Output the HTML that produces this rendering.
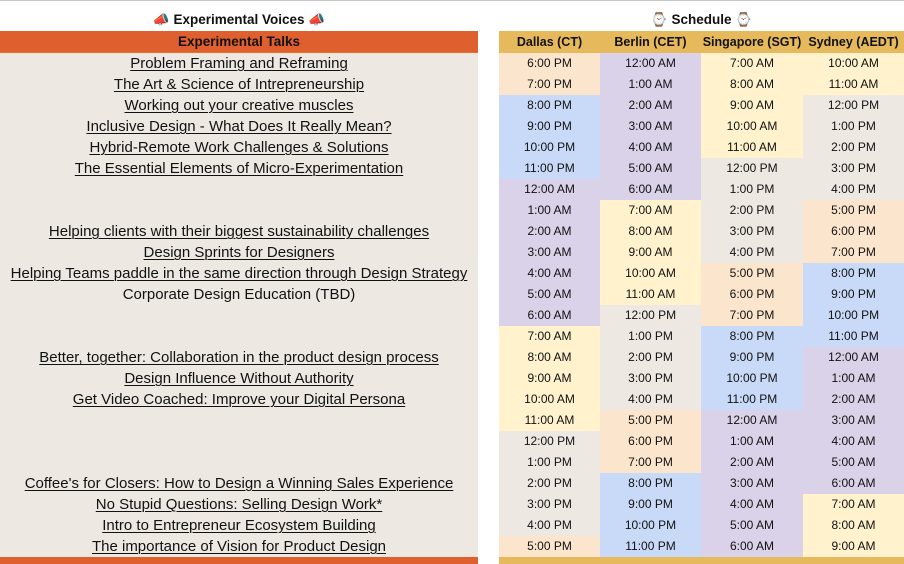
<!DOCTYPE html>
<html><head><meta charset="utf-8"><style>
body{margin:0;width:904px;height:563px;background:#fff;font-family:"Liberation Sans",sans-serif;position:relative;overflow:hidden;color:#111}
.top{position:absolute;left:0;top:0;width:904px;height:1px;background:#c8c8c8}
.title{position:absolute;top:10px;height:20px;font-weight:bold;font-size:13.5px;text-align:center;line-height:20px}
.left{position:absolute;left:0;top:31px;width:478px}
.right{position:absolute;left:499px;top:31px;width:405px}
.hdrL{height:22px;background:#e05f2f;border-bottom:1px solid #f07020;box-sizing:border-box;text-align:center;font-weight:bold;font-size:13.5px;line-height:22px}
.hdrR{height:22px;background:#e5b95c;display:flex;font-weight:bold;font-size:12.5px;line-height:22px}
.row{height:21px;line-height:21px;text-align:center;font-size:15px;background:#eee8e3;white-space:nowrap}
.row u{text-decoration-thickness:1px;text-underline-offset:2px}
.tr{display:flex;height:21px;line-height:21px;font-size:12px}
.tr div,.hdrR div{text-align:center}
.c1{width:101px}.c2{width:101px}.c3{width:102px}.c4{width:101px}
.P{background:#fce5cd}.L{background:#d9d2e9}.Y{background:#fff2cc}.G{background:#eee8e3}.B{background:#c9daf8}
.bot{height:7px}
</style></head><body>
<div class="top"></div>
<div class="title" style="left:0;width:478px">📣 Experimental Voices 📣</div>
<div class="title" style="left:499px;width:405px">⌚ Schedule ⌚</div>
<div class="left">
<div class="hdrL">Experimental Talks</div>
<div class="row"><u>Problem Framing and Reframing</u></div>
<div class="row"><u>The Art &amp; Science of Intrepreneurship</u></div>
<div class="row"><u>Working out your creative muscles</u></div>
<div class="row"><u>Inclusive Design - What Does It Really Mean?</u></div>
<div class="row"><u>Hybrid-Remote Work Challenges &amp; Solutions</u></div>
<div class="row"><u>The Essential Elements of Micro-Experimentation</u></div>
<div class="row"></div>
<div class="row"></div>
<div class="row"><u>Helping clients with their biggest sustainability challenges</u></div>
<div class="row"><u>Design Sprints for Designers</u></div>
<div class="row"><u>Helping Teams paddle in the same direction through Design Strategy</u></div>
<div class="row">Corporate Design Education (TBD)</div>
<div class="row"></div>
<div class="row"></div>
<div class="row"><u>Better, together: Collaboration in the product design process</u></div>
<div class="row"><u>Design Influence Without Authority</u></div>
<div class="row"><u>Get Video Coached: Improve your Digital Persona</u></div>
<div class="row"></div>
<div class="row"></div>
<div class="row"></div>
<div class="row"><u>Coffee's for Closers: How to Design a Winning Sales Experience</u></div>
<div class="row"><u>No Stupid Questions: Selling Design Work*</u></div>
<div class="row"><u>Intro to Entrepreneur Ecosystem Building</u></div>
<div class="row"><u>The importance of Vision for Product Design</u></div>
<div class="bot" style="background:#e05f2f"></div>
</div>
<div class="right">
<div class="hdrR"><div class="c1">Dallas (CT)</div><div class="c2">Berlin (CET)</div><div class="c3">Singapore (SGT)</div><div class="c4">Sydney (AEDT)</div></div>
<div class="tr"><div class="c1 P">6:00 PM</div><div class="c2 L">12:00 AM</div><div class="c3 Y">7:00 AM</div><div class="c4 Y">10:00 AM</div></div>
<div class="tr"><div class="c1 P">7:00 PM</div><div class="c2 L">1:00 AM</div><div class="c3 Y">8:00 AM</div><div class="c4 Y">11:00 AM</div></div>
<div class="tr"><div class="c1 B">8:00 PM</div><div class="c2 L">2:00 AM</div><div class="c3 Y">9:00 AM</div><div class="c4 G">12:00 PM</div></div>
<div class="tr"><div class="c1 B">9:00 PM</div><div class="c2 L">3:00 AM</div><div class="c3 Y">10:00 AM</div><div class="c4 G">1:00 PM</div></div>
<div class="tr"><div class="c1 B">10:00 PM</div><div class="c2 L">4:00 AM</div><div class="c3 Y">11:00 AM</div><div class="c4 G">2:00 PM</div></div>
<div class="tr"><div class="c1 B">11:00 PM</div><div class="c2 L">5:00 AM</div><div class="c3 G">12:00 PM</div><div class="c4 G">3:00 PM</div></div>
<div class="tr"><div class="c1 L">12:00 AM</div><div class="c2 L">6:00 AM</div><div class="c3 G">1:00 PM</div><div class="c4 G">4:00 PM</div></div>
<div class="tr"><div class="c1 L">1:00 AM</div><div class="c2 Y">7:00 AM</div><div class="c3 G">2:00 PM</div><div class="c4 P">5:00 PM</div></div>
<div class="tr"><div class="c1 L">2:00 AM</div><div class="c2 Y">8:00 AM</div><div class="c3 G">3:00 PM</div><div class="c4 P">6:00 PM</div></div>
<div class="tr"><div class="c1 L">3:00 AM</div><div class="c2 Y">9:00 AM</div><div class="c3 G">4:00 PM</div><div class="c4 P">7:00 PM</div></div>
<div class="tr"><div class="c1 L">4:00 AM</div><div class="c2 Y">10:00 AM</div><div class="c3 P">5:00 PM</div><div class="c4 B">8:00 PM</div></div>
<div class="tr"><div class="c1 L">5:00 AM</div><div class="c2 Y">11:00 AM</div><div class="c3 P">6:00 PM</div><div class="c4 B">9:00 PM</div></div>
<div class="tr"><div class="c1 L">6:00 AM</div><div class="c2 G">12:00 PM</div><div class="c3 P">7:00 PM</div><div class="c4 B">10:00 PM</div></div>
<div class="tr"><div class="c1 Y">7:00 AM</div><div class="c2 G">1:00 PM</div><div class="c3 B">8:00 PM</div><div class="c4 B">11:00 PM</div></div>
<div class="tr"><div class="c1 Y">8:00 AM</div><div class="c2 G">2:00 PM</div><div class="c3 B">9:00 PM</div><div class="c4 L">12:00 AM</div></div>
<div class="tr"><div class="c1 Y">9:00 AM</div><div class="c2 G">3:00 PM</div><div class="c3 B">10:00 PM</div><div class="c4 L">1:00 AM</div></div>
<div class="tr"><div class="c1 Y">10:00 AM</div><div class="c2 G">4:00 PM</div><div class="c3 B">11:00 PM</div><div class="c4 L">2:00 AM</div></div>
<div class="tr"><div class="c1 Y">11:00 AM</div><div class="c2 P">5:00 PM</div><div class="c3 L">12:00 AM</div><div class="c4 L">3:00 AM</div></div>
<div class="tr"><div class="c1 G">12:00 PM</div><div class="c2 P">6:00 PM</div><div class="c3 L">1:00 AM</div><div class="c4 L">4:00 AM</div></div>
<div class="tr"><div class="c1 G">1:00 PM</div><div class="c2 P">7:00 PM</div><div class="c3 L">2:00 AM</div><div class="c4 L">5:00 AM</div></div>
<div class="tr"><div class="c1 G">2:00 PM</div><div class="c2 B">8:00 PM</div><div class="c3 L">3:00 AM</div><div class="c4 L">6:00 AM</div></div>
<div class="tr"><div class="c1 G">3:00 PM</div><div class="c2 B">9:00 PM</div><div class="c3 L">4:00 AM</div><div class="c4 Y">7:00 AM</div></div>
<div class="tr"><div class="c1 G">4:00 PM</div><div class="c2 B">10:00 PM</div><div class="c3 L">5:00 AM</div><div class="c4 Y">8:00 AM</div></div>
<div class="tr"><div class="c1 P">5:00 PM</div><div class="c2 B">11:00 PM</div><div class="c3 L">6:00 AM</div><div class="c4 Y">9:00 AM</div></div>
<div class="bot" style="background:#e5b95c"></div>
</div>
</body></html>
